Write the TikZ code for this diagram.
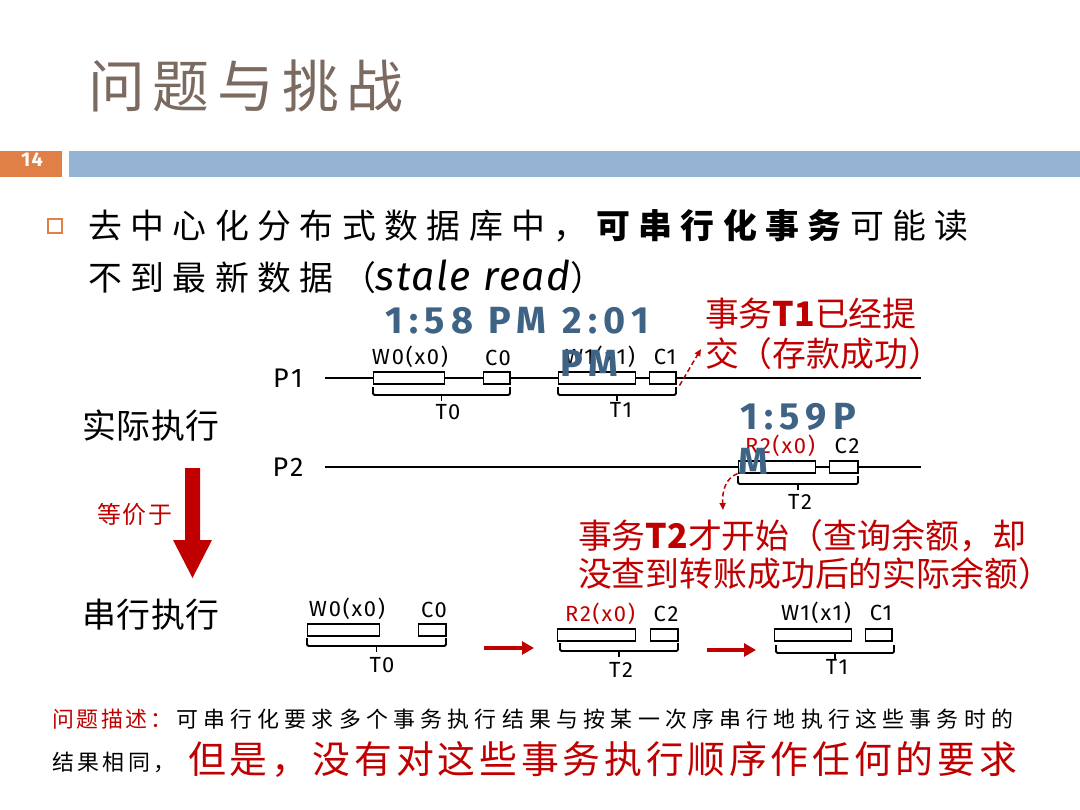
\documentclass[tikz,border=0pt]{standalone}
\usepackage{fontspec}
\setmainfont{Noto Sans CJK SC}
\newfontfamily\cjkf{Noto Sans CJK SC}
\newfontfamily\handf{Fira Sans}
\usetikzlibrary{arrows.meta}
\definecolor{titlec}{HTML}{7B6A60}
\definecolor{orangec}{HTML}{E07F46}
\definecolor{barblue}{HTML}{95B3D2}
\definecolor{timeblue}{HTML}{3E6385}
\definecolor{redc}{HTML}{C00000}
\newcommand\fs[2]{\fontsize{#1}{#1}\selectfont\addfontfeature{LetterSpace=#2}}
\newcommand\brc[3]{\draw[brc] (#1,#3) -- (#1,#3+8) -- (#2,#3+8) -- (#2,#3); \draw[brc] ({(#1+#2)/2},#3+8) -- ++(0,6);}
\tikzset{
  txt/.style={anchor=west, inner sep=0, outer sep=0},
  hand/.style={inner sep=0, font=\handf\fs{22}{8}},
  plbl/.style={inner sep=0, font=\handf\fs{27}{10}},
  tbox/.style={draw, fill=white, line width=1.1, minimum height=12, inner sep=0},
  tline/.style={line width=2},
  brc/.style={line width=1.8, rounded corners=1.5},
  redarrow/.style={redc, line width=3.5, -{Triangle[length=12, width=13]}},
  reddash/.style={redc, line width=1.5, dashed, dash pattern=on 5 off 3, -{Triangle[length=7, width=6]}},
  timelbl/.style={txt, text=timeblue, font=\handf\bfseries\fs{38}{17}},
}
\begin{document}
\begin{tikzpicture}[x=1bp, y=-1bp]
\useasboundingbox (0,0) rectangle (1080,810);
\fill[white] (0,0) rectangle (1080,810);

% title and header bars
\node[txt, text=titlec, font=\fs{57}{14}] (title) at (88,86) {问题与挑战};
\fill[orangec] (0,151) rectangle (62,177);
\fill[barblue] (69,151) rectangle (1080,177);
\node[inner sep=0, text=white, font=\handf\bfseries\fs{20}{6}] (num) at (32,160) {14};

% bullet text
\draw[orangec, line width=1.6] (48,219) rectangle (62,233);
\node[txt, font=\fs{34}{25}] (l1) at (88,226) {去中心化分布式数据库中，\textbf{可串行化事务}可能读};
\node[txt, font=\fs{34}{25}] (l2) at (88,277) {不到最新数据（{\handf\itshape\fs{41}{4}stale read}）};

% time labels
\node[timelbl] (t158) at (385,321) {1:58 PM 2:01};
\node[timelbl] (t159) at (740,417) {1:59P};

% P1 timeline
\node[plbl] (p1) at (288,378) {P1};
\coordinate (p1s) at (325,378);
\coordinate (p1e) at (921,378);
\draw[tline] (p1s) -- (p1e);
\node[tbox, minimum width=72] (w0a) at (409,378) {};
\node[tbox, minimum width=27] (c0a) at (496.5,378) {};
\node[tbox, minimum width=78] (w1a) at (597,378) {};
\node[tbox, minimum width=27] (c1a) at (662.5,378) {};
\node[hand] (w0al) at (410,357) {W0(x0)};
\node[hand] (c0al) at (498,358) {C0};
\node[hand] (w1al) at (600,357) {W1(x1)};
\node[hand] (c1al) at (665,357) {C1};
\brc{373}{510}{387}
\brc{558}{676}{387}
\node[hand] (t0a) at (448,412) {T0};
\node[hand] (t1a) at (621,410) {T1};
\node[timelbl] (pm1) at (560,363) {PM};

% annotation T1
\node[txt, text=redc, font=\fs{34}{0}] (ann1a) at (705,314) {事务\textbf{T1}已经提};
\node[txt, text=redc, font=\fs{34}{0}] (ann1b) at (705,354) {交（存款成功）};
\coordinate (ann1tip) at (701,349);
\draw[reddash] ([xshift=3pt,yshift=-1pt]c1a.south east) -- (ann1tip);

% P2 timeline
\node[plbl] (p2) at (288,467) {P2};
\coordinate (p2s) at (325,467);
\coordinate (p2e) at (921,467);
\draw[tline] (p2s) -- (p2e);
\node[tbox, minimum width=78] (r2a) at (777,467) {};
\node[tbox, minimum width=29] (c2a) at (843.5,467) {};
\node[hand, text=redc] (r2al) at (780,446) {R2(x0)};
\node[hand] (c2al) at (847,446) {C2};
\brc{738}{858}{476}
\node[hand] (t2a) at (800,502) {T2};
\node[timelbl] (m1) at (738,461) {M};

% annotation T2
\node[txt, text=redc, font=\fs{34}{0}] (ann2a) at (578,536) {事务\textbf{T2}才开始（查询余额，却};
\node[txt, text=redc, font=\fs{34}{0}] (ann2b) at (578,574) {没查到转账成功后的实际余额）};
\coordinate (ann2tip) at (723,510);
\draw[reddash] (r2a.south west) .. controls (726,478) and (722,490) .. (ann2tip);

% left labels and big arrow
\node[txt, font=\fs{34}{2}] (real) at (82,426) {实际执行};
\node[txt, text=redc, font=\fs{24}{8}] (eq) at (97,514) {等价于};
\node[txt, font=\fs{34}{2}] (serial) at (82,615) {串行执行};
\fill[redc] (185,468) -- (200,468) -- (200,540) -- (212,540) -- (192.5,578) -- (173,540) -- (185,540) -- cycle;

% serial T0
\node[tbox, minimum width=73] (w0b) at (343.5,630) {};
\node[tbox, minimum width=28] (c0b) at (432,630) {};
\node[hand] (w0bl) at (347,609) {W0(x0)};
\node[hand] (c0bl) at (434,610) {C0};
\brc{307}{446}{638}
\node[hand] (t0b) at (382,665) {T0};

% serial T2
\node[tbox, minimum width=79] (r2b) at (596.5,635) {};
\node[tbox, minimum width=28] (c2b) at (664,635) {};
\node[hand, text=redc] (r2bl) at (600,614) {R2(x0)};
\node[hand] (c2bl) at (666,614) {C2};
\brc{560}{678}{643}
\node[hand] (t2b) at (621,670) {T2};

% serial T1
\node[tbox, minimum width=78] (w1b) at (813,635) {};
\node[tbox, minimum width=27] (c1b) at (878.5,635) {};
\node[hand] (w1bl) at (816,613) {W1(x1)};
\node[hand] (c1bl) at (881,613) {C1};
\brc{776}{894}{645}
\node[hand] (t1b) at (837,667) {T1};

% serial arrows
\coordinate (sa1s) at (484,648);
\coordinate (sa1e) at (534,648);
\coordinate (sa2s) at (707,650);
\coordinate (sa2e) at (756,650);
\draw[redarrow] (sa1s) -- (sa1e);
\draw[redarrow] (sa2s) -- (sa2e);

% bottom text
\node[txt, text=redc, font=\fs{22}{12}] (desc) at (52,719) {问题描述：};
\node[txt, font=\fs{22}{24}] (desc2) at (176,719) {可串行化要求多个事务执行结果与按某一次序串行地执行这些事务时的};
\node[txt, font=\fs{22}{16}] (desc3) at (52,762) {结果相同，};
\node[txt, text=redc, font=\fs{38}{10}] (desc4) at (188,760) {但是，没有对这些事务执行顺序作任何的要求};
\end{tikzpicture}
\end{document}
